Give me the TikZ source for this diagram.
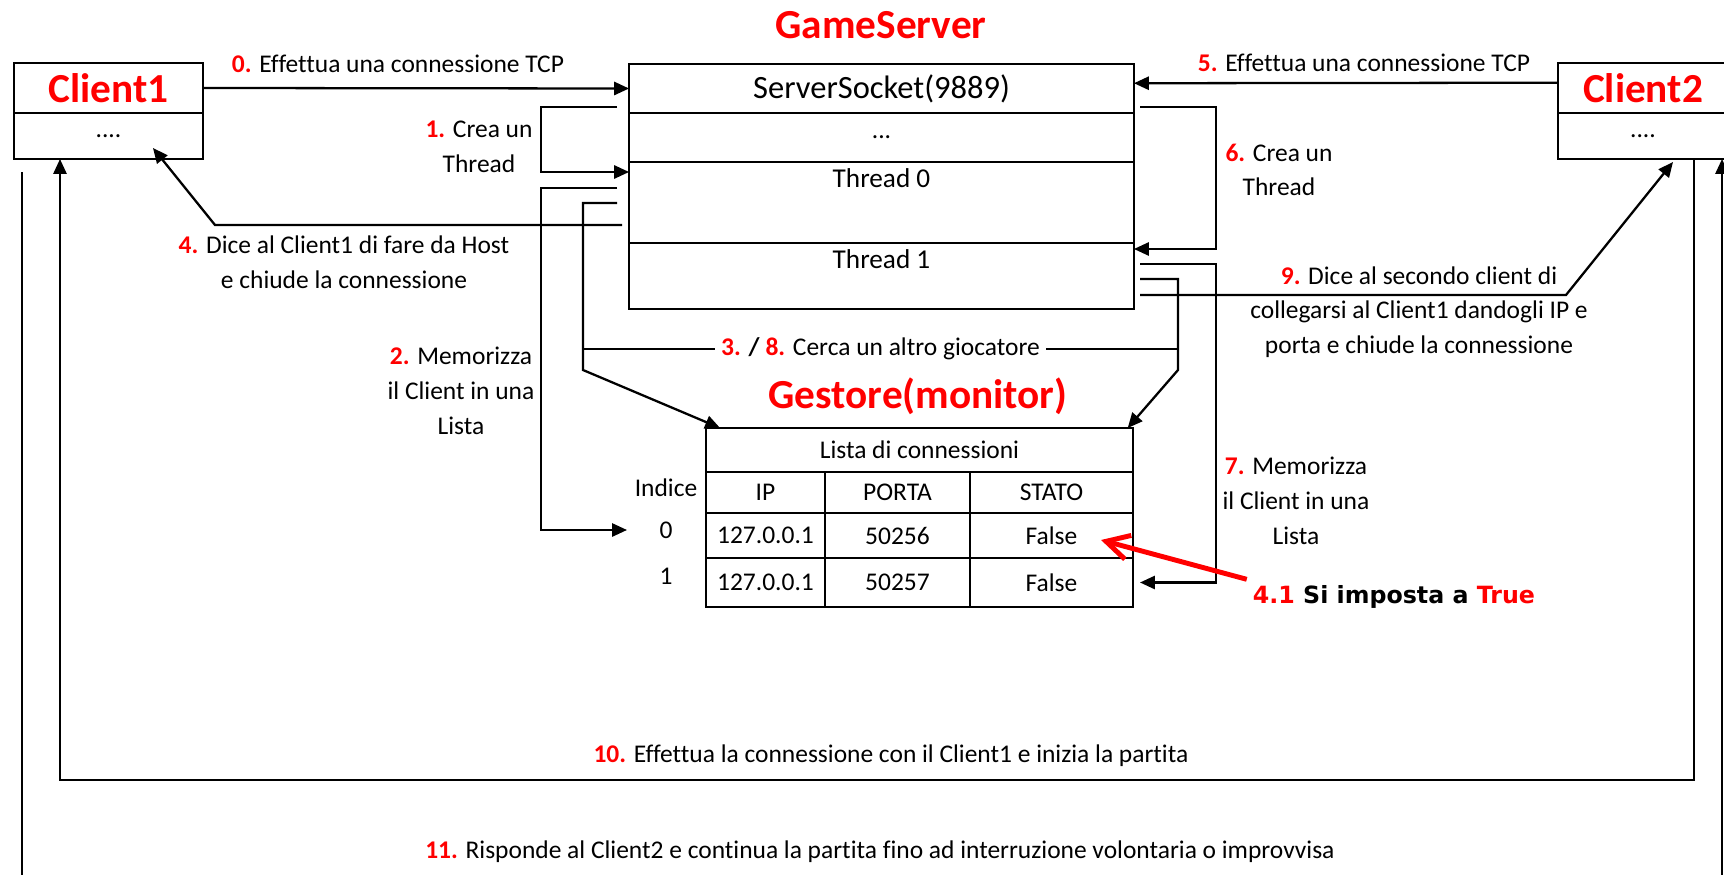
\documentclass[tikz,border=0pt]{standalone}
\usepackage{fontspec}
\setmainfont{Carlito}[Ligatures={NoCommon}]
\newfontfamily\verdfont{DejaVu Sans}
\usetikzlibrary{arrows.meta}
\newcommand{\rnum}[1]{\textcolor{red}{\textbf{#1}}}

\begin{document}
\begin{tikzpicture}[x=0.02cm, y=-0.02cm,
  every node/.style={font=\fontsize{14.5}{19.8}\selectfont},
  box/.style={draw, line width=1.1pt, inner sep=0pt, outer sep=0pt},
  title/.style={text=red, font=\fontsize{23.5}{28}\selectfont\bfseries},
  lab/.style={align=center},
  arr/.style={-{Triangle[length=8.5pt,width=7.5pt]}, line width=1.3pt},
  wire/.style={line width=1.3pt}]
  \useasboundingbox (0,0) rectangle (1724,875);
  \clip (0,0) rectangle (1724,875);

  \node[box, title, minimum width=3.78cm, minimum height=1cm] (c1) at (108.5,88) {Client1};
  \node[box, minimum width=3.78cm, minimum height=0.92cm] (c1d) at (108.5,136) {....};
  \node[box, title, minimum width=3.4cm, minimum height=1cm] (c2) at (1643,88) {Client2};
  \node[box, minimum width=3.4cm, minimum height=0.92cm] (c2d) at (1643,136) {....};

  \node[title] (gs) at (881,25) {GameServer};
  \node[box, minimum width=10.1cm, minimum height=0.98cm, font=\fontsize{18.5}{22}\selectfont] (ss) at (881.5,88.5) {ServerSocket(9889)};
  \node[box, minimum width=10.1cm, minimum height=0.98cm] (sd) at (881.5,137.5) {...};
  \node[box, minimum width=10.1cm, minimum height=1.62cm,
    label={[anchor=north, font=\fontsize{15.5}{18}\selectfont]north:Thread 0}] (th0) at (881.5,202.5) {};
  \node[box, minimum width=10.1cm, minimum height=1.32cm,
    label={[anchor=north, font=\fontsize{15.5}{18}\selectfont]north:Thread 1}] (th1) at (881.5,276) {};

  \node[title] (gm) at (918,396) {Gestore(monitor)};
  \node[box, minimum width=8.54cm, minimum height=0.88cm] (lst) at (919.5,450) {Lista di connessioni};
  \node[box, minimum width=2.38cm, minimum height=0.82cm] (hip) at (765.5,492.5) {IP};
  \node[box, minimum width=2.9cm, minimum height=0.82cm] (hport) at (897.5,492.5) {PORTA};
  \node[box, minimum width=3.26cm, minimum height=0.82cm] (hst) at (1051.5,492.5) {STATO};
  \node[box, minimum width=2.38cm, minimum height=0.9cm] (ip0) at (765.5,535.5) {127.0.0.1};
  \node[box, minimum width=2.9cm, minimum height=0.9cm] (port0) at (897.5,535.5) {50256};
  \node[box, minimum width=3.26cm, minimum height=0.9cm] (st0) at (1051.5,535.5) {False};
  \node[box, minimum width=2.38cm, minimum height=0.98cm] (ip1) at (765.5,582.5) {127.0.0.1};
  \node[box, minimum width=2.9cm, minimum height=0.98cm] (port1) at (897.5,582.5) {50257};
  \node[box, minimum width=3.26cm, minimum height=0.98cm] (st1) at (1051.5,582.5) {False};
  \node (ind) at (666,488) {Indice};
  \node (i0) at (666,530) {0};
  \node (i1) at (666,576) {1};

  \coordinate (o1) at (617,107);
  \coordinate (o2) at (617,188);
  \coordinate (o3) at (617,203);
  \coordinate (o4) at (622,225);
  \coordinate (o6) at (1140,107);
  \coordinate (o7) at (1140,264);
  \coordinate (o8) at (1140,279);
  \coordinate (o9) at (1140,295);
  \coordinate (o11) at (22,172);
  \coordinate (e2) at (627,530);
  \coordinate (e4) at (153,148);
  \coordinate (e9) at (1673,162);
  \coordinate (e41) at (1101,540);
  \coordinate (k3) at (583,349);
  \coordinate (k8) at (1178,349);

  \draw[arr] (c1.east) -- (ss.west);
  \node (l0) at (398,64) {\rnum{0.} Effettua una connessione TCP};
  \draw[arr] ([yshift=3pt]c2.west) -- ([yshift=3pt]ss.east);
  \node (l5) at (1364,63) {\rnum{5.} Effettua una connessione TCP};

  \draw[arr] (o1) -- (541,107) |- (th0.west |- 0,172);
  \node[lab] (l1) at (479,147) {\rnum{1.} Crea un\\Thread};
  \draw[arr] (o2) -- (541,188) |- (e2);
  \node[lab] (l2) at (461,391) {\rnum{2.} Memorizza\\il Client in una\\Lista};
  \draw[arr] (o3) -- (583,203) -- (583,370) -- ([xshift=8pt]lst.north west);
  \draw[arr] (o8) -- (1178,279) -- (1178,370) -- ([xshift=-3pt]lst.north east);
  \draw[wire] (k3) -- node[fill=white] {\rnum{3.} \textbf{/} \rnum{8.} Cerca un altro giocatore} (k8);
  \draw[arr] (o4) -- (215,225) -- (e4);
  \node[lab] (l4) at (344,262) {\rnum{4.} Dice al Client1 di fare da Host\\e chiude la connessione};

  \draw[arr] (o6) -- (1216,107) |- (th1.east |- 0,249);
  \node[lab] (l6) at (1279,170) {\rnum{6.} Crea un\\Thread};
  \draw[arr] (o7) -- (1216,264) |- ([xshift=4pt]st1.east);
  \node[lab] (l7) at (1296,501) {\rnum{7.} Memorizza\\il Client in una\\Lista};
  \draw[arr] (o9) -- (1566,295) -- (e9);
  \node[lab] (l9) at (1419,312) {\rnum{9.} Dice al secondo client di\\collegarsi al Client1 dandogli IP e\\porta e chiude la connessione};

  \node[font=\verdfont\fontsize{13.5}{16}\selectfont\bfseries] (l41) at (1394,597) {\textcolor{red}{4.1} Si imposta a \textcolor{red}{True}};
  \draw[red, line width=2.8pt, -{Straight Barb[length=13pt,width=14pt]}] (l41.north west) -- (e41);

  \draw[arr] (c2d.south -| 1694,0) -- (1694,780) -- (60,780) -- (c1d.south -| 60,0);
  \node (l10) at (891,756) {\rnum{10.} Effettua la connessione con il Client1 e inizia la partita};
  \draw[arr] (o11) -- (22,900) -- (1722,900) -- (c2d.south -| 1722,0);
  \node (l11) at (880,852) {\rnum{11.} Risponde al Client2 e continua la partita fino ad interruzione volontaria o improvvisa};
\end{tikzpicture}
\end{document}
